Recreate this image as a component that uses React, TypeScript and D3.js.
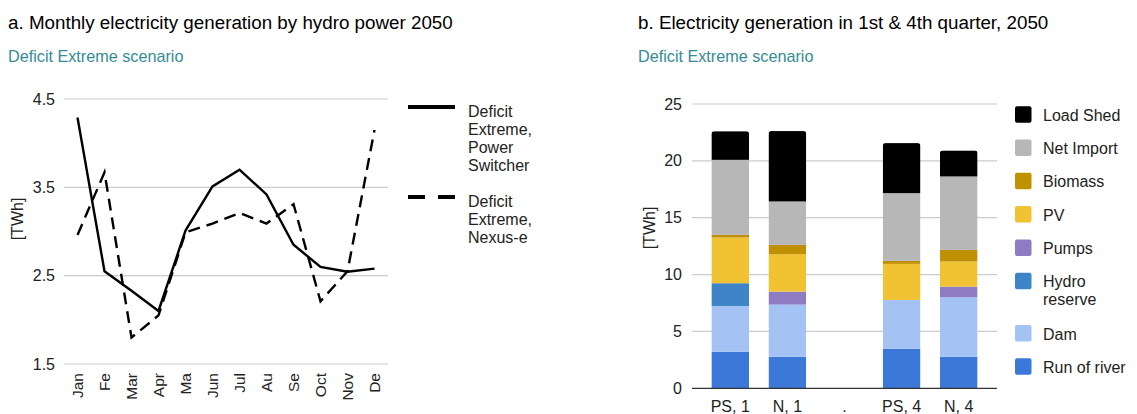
import * as d3 from 'd3';

// panel a: monthly hydro generation [TWh]
const months = ['Jan', 'Fe', 'Mar', 'Apr', 'Ma', 'Jun', 'Jul', 'Au', 'Se', 'Oct', 'Nov', 'De'];
const powerSwitcher = [4.29, 2.55, 2.33, 2.1, 3.01, 3.51, 3.7, 3.42, 2.85, 2.6, 2.545, 2.58];
const nexusE = [2.96, 3.67, 1.8, 2.05, 2.99, 3.09, 3.21, 3.09, 3.31, 2.21, 2.55, 4.15];
const lineTicks = [1.5, 2.5, 3.5, 4.5];

// panel b: quarterly generation mix [TWh]
const quarters = ['PS, 1', 'N, 1', '.', 'PS, 4', 'N, 4'];
const techs = ['Run of river', 'Dam', 'Hydro reserve', 'Pumps', 'PV', 'Biomass', 'Net Import', 'Load Shed'];
const techColors = ['#3c78d8', '#a4c2f4', '#3d85c6', '#8e7cc3', '#f1c232', '#bf9000', '#b7b7b7', '#000000'];
const runOfRiver = [3.22, 2.78, 0, 3.49, 2.78];
const dam = [4.02, 4.58, 0, 4.28, 5.23];
const hydroReserve = [2.0, 0, 0, 0, 0];
const pumps = [0, 1.14, 0, 0, 0.93];
const pv = [4.02, 3.29, 0, 3.17, 2.21];
const biomass = [0.23, 0.82, 0, 0.26, 1.02];
const netImport = [6.6, 3.82, 0, 5.96, 6.46];
const loadShed = [2.52, 6.19, 0, 4.4, 2.29];
const barTicks = [0, 5, 10, 15, 20, 25];

const FONT = '"Liberation Sans", Arial, sans-serif';
const TEAL = '#358c95';
const TXT = '#222';

function LineChart() {
  const x = d3.scalePoint<string>().domain(months).range([64, 388]).padding(0.5);
  const y = d3.scaleLinear().domain([1.5, 4.5]).range([364, 99]);
  const line = d3.line<number>().x((_, i) => x(months[i])!).y(d => y(d));
  const legend = [
    { lines: ['Deficit', 'Extreme,', 'Power', 'Switcher'], dash: null, cy: 107 },
    { lines: ['Deficit', 'Extreme,', 'Nexus-e'], dash: '17,13', cy: 197 },
  ];
  return (
    <g>
      <text x={8} y={29} fontSize={18.8} fill="#000">a. Monthly electricity generation by hydro power 2050</text>
      <text x={8} y={62} fontSize={16.2} fill={TEAL}>Deficit Extreme scenario</text>
      {lineTicks.map(t => (
        <g key={t}>
          <line x1={64} x2={388} y1={y(t)} y2={y(t)} stroke="#ccc" strokeWidth={1.2} />
          <text x={55} y={y(t)} dy="0.35em" textAnchor="end" fontSize={16} fill={TXT}>{t.toFixed(1)}</text>
        </g>
      ))}
      {months.map(m => (
        <text key={m} transform={`translate(${x(m)},373) rotate(-90)`} dy="0.35em" textAnchor="end" fontSize={15.5} fill={TXT}>{m}</text>
      ))}
      <text transform="translate(17,219) rotate(-90)" dy="0.35em" textAnchor="middle" fontSize={16} fill={TXT}>[TWh]</text>
      <path d={line(nexusE)!} fill="none" stroke="#000" strokeWidth={2.4} strokeDasharray="12,7" />
      <path d={line(powerSwitcher)!} fill="none" stroke="#000" strokeWidth={2.4} />
      {legend.map((l, i) => (
        <g key={i}>
          <line x1={408} x2={455} y1={l.cy} y2={l.cy} stroke="#000" strokeWidth={4} strokeDasharray={l.dash ?? undefined} />
          {l.lines.map((s, j) => (
            <text key={j} x={468} y={l.cy + 10 + j * 18} fontSize={16} fill={TXT}>{s}</text>
          ))}
        </g>
      ))}
    </g>
  );
}

function BarChart() {
  const rows = quarters.map((q, i) => {
    const r: Record<string, number | string> = { q };
    const vals = [runOfRiver, dam, hydroReserve, pumps, pv, biomass, netImport, loadShed];
    techs.forEach((t, k) => (r[t] = vals[k][i]));
    return r;
  });
  const stack = d3.stack<Record<string, number | string>>().keys(techs)(rows);
  const x = d3.scaleBand().domain(quarters).range([692, 997]).paddingInner(0.34).paddingOuter(0.34);
  const y = d3.scaleLinear().domain([0, 25]).range([388.3, 104]);
  const totals = quarters.map((_, i) => d3.sum(stack, s => (s[i][1] - s[i][0])));

  // legend rows: extra height for the two-line entry
  const legendItems = techs.map((t, k) => ({ t, c: techColors[k] })).reverse();
  let ly = 114.2;
  const legendPos = legendItems.map(it => {
    const lines = it.t === 'Hydro reserve' ? ['Hydro', 'reserve'] : [it.t];
    const p = { ...it, lines, cy: ly };
    ly += 33.3 + (lines.length - 1) * 19;
    return p;
  });

  return (
    <g>
      <text x={638} y={29} fontSize={18.8} fill="#000">b. Electricity generation in 1st &amp; 4th quarter, 2050</text>
      <text x={638} y={62} fontSize={16.2} fill={TEAL}>Deficit Extreme scenario</text>
      <defs>
        {quarters.map((q, i) => (
          <clipPath key={i} id={`bar-clip-${i}`}>
            <rect x={x(q)} y={y(totals[i])} width={x.bandwidth()} height={y(0) - y(totals[i]) + 4} rx={3} />
          </clipPath>
        ))}
      </defs>
      {barTicks.map(t => (
        <g key={t}>
          {t > 0 && <line x1={692} x2={997} y1={y(t)} y2={y(t)} stroke="#ccc" strokeWidth={1.2} />}
          <text x={682} y={y(t)} dy="0.35em" textAnchor="end" fontSize={16} fill={TXT}>{t}</text>
        </g>
      ))}
      <text transform="translate(649,228) rotate(-90)" dy="0.35em" textAnchor="middle" fontSize={16} fill={TXT}>[TWh]</text>
      {quarters.map((q, i) => (
        <g key={q} clipPath={`url(#bar-clip-${i})`}>
          {stack.map((s, k) => {
            const d = s[i];
            if (d[1] - d[0] <= 0) return null;
            return (
              <rect key={k} x={x(q)} y={y(d[1])} width={x.bandwidth()} height={y(d[0]) - y(d[1])} fill={techColors[k]} />
            );
          })}
        </g>
      ))}
      <line x1={692} x2={997} y1={y(0)} y2={y(0)} stroke="#333" strokeWidth={1.3} />
      {quarters.map(q => (
        <text key={q} x={x(q)! + x.bandwidth() / 2} y={412} textAnchor="middle" fontSize={16} fill={TXT}>{q}</text>
      ))}
      {legendPos.map(it => (
        <g key={it.t}>
          <rect x={1015} y={it.cy - 8} width={16.5} height={16.5} rx={2} fill={it.c} />
          {it.lines.map((s, j) => (
            <text key={j} x={1043} y={it.cy + 6.5 + j * 18} fontSize={16} fill={TXT}>{s}</text>
          ))}
        </g>
      ))}
    </g>
  );
}

export default function App() {
  return (
    <svg width={1137} height={414} style={{ position: 'absolute', left: 0, top: 0, fontFamily: FONT, background: '#fff' }}>
      <rect width={1137} height={414} fill="#fff" />
      <LineChart />
      <BarChart />
    </svg>
  );
}
